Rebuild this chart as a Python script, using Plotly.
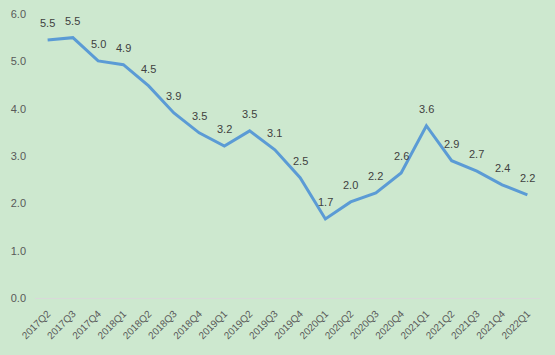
import plotly.graph_objects as go

quarters = ["2017Q2", "2017Q3", "2017Q4", "2018Q1", "2018Q2", "2018Q3", "2018Q4",
            "2019Q1", "2019Q2", "2019Q3", "2019Q4", "2020Q1", "2020Q2", "2020Q3",
            "2020Q4", "2021Q1", "2021Q2", "2021Q3", "2021Q4", "2022Q1"]
values = [5.45, 5.50, 5.01, 4.93, 4.48, 3.91, 3.49, 3.21, 3.53, 3.13, 2.54, 1.67,
          2.03, 2.22, 2.64, 3.64, 2.90, 2.68, 2.39, 2.18]
labels = ["5.5", "5.5", "5.0", "4.9", "4.5", "3.9", "3.5", "3.2", "3.5", "3.1", "2.5",
          "1.7", "2.0", "2.2", "2.6", "3.6", "2.9", "2.7", "2.4", "2.2"]
y_ticks = [0, 1, 2, 3, 4, 5, 6]

bg = "#CDE8CF"
fig = go.Figure()
fig.add_trace(go.Scatter(x=quarters, y=values, mode="lines",
                         line=dict(color="#5B9BD5", width=3), hoverinfo="skip"))
for q, v, t in zip(quarters, values, labels):
    fig.add_annotation(x=q, y=v, text=t, showarrow=False, yshift=17,
                       font=dict(family="Liberation Sans", size=11, color="#404040"))

fig.update_layout(
    width=555, height=355,
    margin=dict(l=35, r=15, t=14, b=57),
    paper_bgcolor=bg, plot_bgcolor=bg,
    showlegend=False,
    xaxis=dict(type="category", range=[-0.5, len(quarters) - 0.5], tickangle=-45,
               showgrid=False, showline=True, automargin=False,
               linecolor="#D9D9D9", linewidth=1, ticks="", ticklabelstandoff=5,
               tickfont=dict(family="Liberation Sans", size=10, color="#595959")),
    yaxis=dict(range=[0, 6], tickvals=y_ticks, tickformat=".1f", showgrid=False,
               zeroline=False, showline=False, ticks="", automargin=False,
               ticklabelstandoff=8,
               tickfont=dict(family="Liberation Sans", size=11, color="#595959")),
)
fig.write_html("out.html", config={"displayModeBar": False},
               post_script="document.body.style.margin='0';"
                           "document.body.style.background='#CDE8CF';")
